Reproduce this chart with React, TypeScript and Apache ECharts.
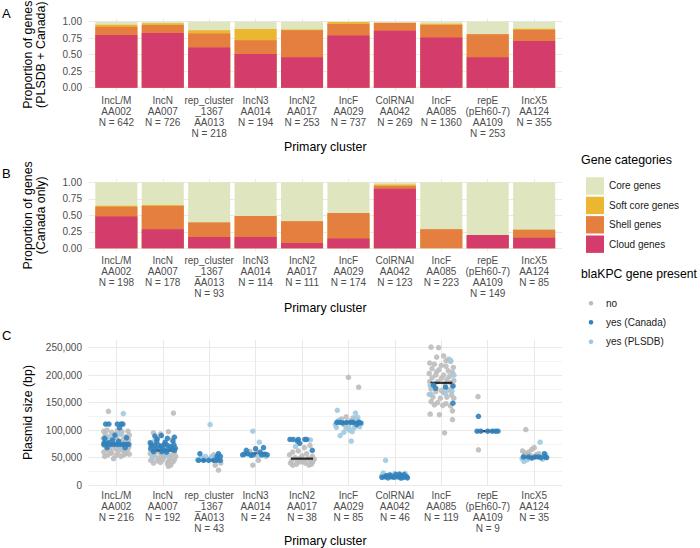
import React, { useEffect, useRef } from "react";
import * as echarts from "echarts";

// ---------- categories / counts ----------
const clusterLabels = [
  "IncL/M\nAA002",
  "IncN\nAA007",
  "rep_cluster\n_1367\nAA013",
  "IncN3\nAA014",
  "IncN2\nAA017",
  "IncF\nAA029",
  "ColRNAI\nAA042",
  "IncF\nAA085",
  "repE\n(pEh60-7)\nAA109",
  "IncX5\nAA124",
];
const nAll = [642, 726, 218, 194, 253, 737, 269, 1360, 253, 355];
const nCanada = [198, 178, 93, 114, 111, 174, 123, 223, 149, 85];
const nPlasmid = [216, 192, 43, 24, 38, 85, 46, 119, 9, 35];

const geneCategories = ["Core genes", "Soft core genes", "Shell genes", "Cloud genes"];
const geneColors: Record<string, string> = {
  "Core genes": "#dfe5bf",
  "Soft core genes": "#ebb730",
  "Shell genes": "#e57f40",
  "Cloud genes": "#d43d6b",
};

// ---------- Panel A: PLSDB + Canada proportions ----------
const cloudAll = [0.8, 0.83, 0.61, 0.51, 0.46, 0.79, 0.864, 0.76, 0.46, 0.707];
const shellAll = [0.125, 0.12, 0.21, 0.21, 0.41, 0.175, 0.116, 0.19, 0.35, 0.172];
const softAll = [0.03, 0.025, 0.05, 0.17, 0.01, 0.03, 0.005, 0.02, 0.0, 0.015];
const coreAll = [0.045, 0.025, 0.13, 0.11, 0.12, 0.005, 0.015, 0.03, 0.19, 0.106];

// ---------- Panel B: Canada only proportions ----------
const cloudCan = [0.48, 0.29, 0.17, 0.17, 0.08, 0.15, 0.904, 0.0, 0.2, 0.16];
const shellCan = [0.15, 0.35, 0.22, 0.32, 0.33, 0.385, 0.041, 0.29, 0.0, 0.12];
const softCan = [0.015, 0.015, 0.0, 0.0, 0.0, 0.0, 0.02, 0.0, 0.0, 0.0];
const coreCan = [0.355, 0.345, 0.61, 0.51, 0.59, 0.465, 0.035, 0.71, 0.8, 0.72];

// ---------- Panel C: plasmid sizes (kbp), [jitter offset, size] ----------
const noPoints: number[][][] = [
  [[-0.17,134],[-0.27,98],[-0.2,100],[-0.1,96],[0.02,99],[0.12,97],[0.25,98],[-0.24,92],[-0.05,90],[0.08,93],[0.2,88],[0.28,91],[-0.28,85],[-0.15,84],[0,86],[0.15,83],[0.26,82],[-0.22,79],[-0.08,80],[0.05,78],[0.18,77],[-0.26,72],[-0.12,70],[0.1,71],[0.27,69],[-0.2,65],[-0.02,66],[0.13,64],[0.24,63],[-0.27,60],[-0.1,58],[0.04,60],[0.2,57],[-0.18,55],[0,54],[0.16,55],[0.28,56],[-0.25,52],[-0.06,48],[0.1,52],[-0.13,62],[0.07,68],[0.22,74],[-0.04,75],[0.17,62]],
  [[0.23,131],[0.12,97],[-0.2,95],[-0.05,93],[0.2,82],[-0.25,70],[-0.15,66],[0,68],[0.1,62],[0.25,60],[-0.27,57],[-0.18,55],[-0.05,58],[0.08,56],[0.18,54],[0.28,52],[-0.22,50],[-0.1,49],[0.03,51],[0.15,48],[0.25,46],[-0.26,45],[-0.12,44],[0,46],[0.12,43],[0.22,42],[-0.2,40],[-0.05,41],[0.1,39],[0.17,36],[0.12,34],[-0.15,61],[0.05,63],[-0.02,53],[0.2,64]],
  [[0.1,55],[0.13,36],[0.2,27],[-0.15,48],[0.05,50],[0.25,40]],
  [[-0.06,36],[0.06,45],[-0.12,61],[0.02,58],[0.15,54]],
  [[0.17,72],[0.05,68],[-0.2,60],[-0.08,62],[0.1,57],[-0.27,55],[0,53],[0.22,52],[-0.15,50],[-0.05,48],[0.12,48],[0.26,47],[-0.22,45],[-0.1,44],[0.03,43],[0.18,44],[-0.25,40],[-0.12,38],[0.07,40],[0.2,38],[-0.2,36],[0.15,36],[-0.02,42],[0.23,42]],
  [[0,196],[0.22,178],[-0.05,124],[0.1,122],[-0.15,120],[0.2,118],[0.05,117],[-0.1,110],[0.15,108],[-0.22,116]],
  [[-0.2,17],[0.1,18],[0.25,16]],
  [[-0.22,251],[-0.06,250],[-0.1,233],[0.16,229],[0.2,225],[-0.25,222],[-0.15,220],[0,218],[0.1,216],[0.26,214],[-0.2,212],[-0.05,210],[0.15,208],[0.24,205],[-0.26,203],[-0.12,200],[0.05,200],[0.18,198],[-0.2,195],[0,194],[0.12,192],[0.27,190],[-0.25,188],[-0.08,188],[0.2,186],[-0.15,184],[0.08,184],[0.25,182],[-0.22,175],[0,172],[0.16,173],[-0.12,170],[0.05,168],[-0.26,165],[0.22,164],[-0.18,160],[-0.02,158],[0.12,160],[0.27,158],[-0.22,152],[-0.08,150],[0.1,148],[-0.15,146],[0.03,145],[0.2,144],[-0.24,129],[-0.04,128],[0.24,119],[0.07,95],[0.24,135],[0.1,226],[-0.1,206],[0.05,235]],
  [[-0.21,161],[-0.2,64]],
  [[-0.18,101],[-0.25,62],[-0.2,58],[-0.12,60],[-0.05,65],[0,68],[-0.15,56],[-0.22,53],[-0.08,54],[0.05,55],[0.1,57],[-0.18,50],[0.02,52]],
];
const canadaPoints: number[][][] = [
  [[-0.23,111],[-0.16,111],[0.02,111],[0.1,111],[0.14,111],[0.07,104],[-0.03,91],[-0.25,85],[0.22,86],[-0.26,77],[-0.17,77],[-0.27,74],[-0.2,74],[-0.12,74],[-0.05,74],[0.02,74],[0.08,74],[0.15,74],[0.22,74],[0.27,74],[-0.2,68],[0.19,68],[0.05,80],[-0.08,82]],
  [[-0.17,89],[-0.03,90],[0.1,85],[0.25,87],[0.22,80],[-0.27,77],[-0.13,80],[0.05,78],[-0.25,73],[-0.18,72],[-0.1,73],[-0.03,71],[0.04,74],[0.1,72],[0.17,70],[0.24,73],[0.27,67],[-0.26,66],[-0.15,65],[-0.05,67],[0.02,64],[0.13,65],[0.2,66],[-0.2,61],[-0.02,61],[0.08,60],[0.25,63],[-0.12,84]],
  [[-0.2,57],[0.2,57],[-0.23,45],[-0.12,45],[-0.01,45],[0.1,45],[0.24,45],[0.17,52],[0.24,52],[0.16,45]],
  [[-0.24,56],[-0.17,57],[-0.28,55],[-0.1,54],[0,66],[0.17,68],[0.1,60],[0.2,56],[0.25,55],[-0.05,55],[0.13,55],[-0.2,63]],
  [[-0.26,83],[-0.19,83],[-0.08,83],[0.06,83],[0.1,83],[-0.05,76],[0.22,63],[-0.1,80]],
  [[-0.25,114],[-0.18,114],[0.05,114],[0.1,114],[0.22,114],[0.18,110],[-0.12,113],[0.26,113],[-0.04,114]],
  [[-0.28,14],[-0.22,15],[-0.15,13],[-0.08,15],[-0.02,14],[0.05,15],[0.12,13],[0.18,14],[0.25,15],[0.27,13],[0.02,19],[0.1,20],[-0.1,18],[0.2,19],[-0.18,17],[0.15,16]],
  [[-0.17,182],[-0.12,176],[0.09,178],[0.25,180],[0.25,149]],
  [[-0.2,125],[-0.23,98],[-0.15,98],[0,98],[0.17,98],[0.22,98],[0.1,98]],
  [[-0.23,51],[-0.12,51],[0.02,51],[0.09,51],[0.24,51],[0.27,50],[0.22,57],[-0.05,49],[0.15,50]],
];
const plsdbPoints: number[][][] = [
  [[0.15,130],[0.1,92],[0.05,70],[-0.15,88]],
  [[-0.18,80],[0.08,55],[-0.22,52]],
  [[0.02,110],[-0.08,52],[0.06,52],[-0.18,50],[-0.02,47],[0.13,50],[-0.25,46]],
  [[-0.06,98],[0.08,78],[-0.15,58],[0.05,53],[0.22,52]],
  [[0.18,82],[-0.14,70]],
  [[-0.24,136],[0.15,131],[0.06,80],[-0.18,90],[-0.1,96],[0.02,100],[0.12,104],[-0.26,105],[0.24,106],[0,107],[0.15,120],[-0.2,118],[0.2,123],[-0.05,103],[0.28,112],[-0.28,110],[0.08,97]],
  [[-0.2,45],[-0.25,22],[-0.12,19],[0,21],[0.08,17],[0.22,21],[-0.05,16],[0.15,12],[-0.28,17]],
  [[-0.24,181],[-0.22,165],[0.09,167],[0.2,227],[0.23,171],[0.27,200]],
  [],
  [[0.13,78],[-0.22,43],[-0.15,46],[0.18,47],[-0.26,48],[0.25,55]],
];
const medianKbp = [74, 63, 45, 57, 48, 114, 15, 186, 98, 50];

const propTicks = [0, 0.25, 0.5, 0.75, 1];
const sizeTicks = [0, 50000, 100000, 150000, 200000, 250000];
const sizeMinorTicks = [25000, 75000, 125000, 175000, 225000];

const FONT = '"Liberation Sans", Arial, Helvetica, sans-serif';
const TICK = "#4d4d4d";
const GRIDC = "#e9e9e9";
const positions = clusterLabels.map((_, i) => i + 1);

function fmtComma(v: number) {
  return String(Math.round(v)).replace(/\B(?=(\d{3})+(?!\d))/g, ",");
}

function xAxisFor(gridIndex: number, counts: number[], margin: number) {
  return {
    type: "value",
    gridIndex,
    min: 0.4,
    max: 10.6,
    axisLine: { show: false },
    axisTick: { show: false, customValues: positions },
    axisLabel: {
      customValues: positions,
      formatter: (v: number) => {
        const i = Math.round(v) - 1;
        return `${clusterLabels[i]}\nN = ${counts[i]}`;
      },
      color: TICK,
      fontSize: 10,
      lineHeight: 11,
      margin,
      fontFamily: FONT,
    },
    splitLine: { show: true, lineStyle: { color: GRIDC, width: 1 } },
    name: "Primary cluster",
    nameLocation: "middle",
    nameGap: 50,
    nameTextStyle: { color: "#000", fontSize: 12.4, fontFamily: FONT },
  };
}

function propYAxis(gridIndex: number) {
  return {
    type: "value",
    gridIndex,
    min: -0.05,
    max: 1.05,
    axisLine: { show: false },
    axisTick: { show: false, customValues: propTicks },
    axisLabel: {
      customValues: propTicks,
      formatter: (v: number) => v.toFixed(2),
      color: TICK,
      fontSize: 10,
      margin: 6.5,
      fontFamily: FONT,
    },
    splitLine: { show: true, lineStyle: { color: GRIDC, width: 1 } },
  };
}

// Stacked bars drawn as cumulative layers: each layer spans from 0 to the
// running total, drawn largest first so lower segments overlay them.
function barSeries(axisIndex: number, sets: [string, number[]][]) {
  const cumulative: [string, number[]][] = [];
  let running = sets[0][1].map(() => 0);
  for (const [name, vals] of sets) {
    running = running.map((r, i) => r + vals[i]);
    cumulative.push([name, running.slice()]);
  }
  return cumulative.reverse().map(([name, tops]) => ({
    type: "bar",
    name,
    xAxisIndex: axisIndex,
    yAxisIndex: axisIndex,
    barWidth: 42,
    barGap: "-100%",
    itemStyle: { color: geneColors[name] },
    data: tops.map((v, i) => [i + 1, v]),
  }));
}

function scatterData(groups: number[][][]) {
  return groups.flatMap((pts, i) => pts.map(([dx, k]) => [i + 1 + dx, k * 1000]));
}

function yTitle(text: string, cy: number) {
  return {
    type: "text",
    x: 34.5,
    y: cy,
    rotation: Math.PI / 2,
    style: {
      text,
      fill: "#000",
      align: "center",
      verticalAlign: "middle",
      lineHeight: 13,
      font: `12.4px ${FONT}`,
    },
  };
}

function buildOption() {
  return {
    animation: false,
    textStyle: { fontFamily: FONT },
    grid: [
      { left: 88.5, top: 18.4, width: 473.5, height: 72.6 },
      { left: 88.5, top: 179, width: 473.5, height: 72.6 },
      { left: 88.5, top: 340, width: 473.5, height: 145.7 },
    ],
    xAxis: [xAxisFor(0, nAll, 3.5), xAxisFor(1, nCanada, 3.5), xAxisFor(2, nPlasmid, 4.8)],
    yAxis: [
      propYAxis(0),
      propYAxis(1),
      {
        type: "value",
        gridIndex: 2,
        min: 0,
        max: 264000,
        axisLine: { show: false },
        axisTick: { show: false, customValues: sizeTicks },
        axisLabel: {
          customValues: sizeTicks,
          formatter: (v: number) => fmtComma(v),
          color: TICK,
          fontSize: 10,
          margin: 6.5,
          fontFamily: FONT,
        },
        splitLine: { show: true, lineStyle: { color: GRIDC, width: 1 } },
        name: "Plasmid size (bp)",
        nameLocation: "middle",
        nameRotate: 90,
        nameGap: 55,
        nameTextStyle: { color: "#000", fontSize: 12.4, fontFamily: FONT },
      },
      {
        type: "value",
        gridIndex: 2,
        min: 0,
        max: 264000,
        axisLine: { show: false },
        axisTick: { show: false, customValues: sizeMinorTicks },
        axisLabel: { show: false },
        splitLine: { show: true, lineStyle: { color: "#f3f3f3", width: 1 } },
      },
    ],
    legend: {
      data: geneCategories,
      left: 581,
      top: 172.3,
      orient: "vertical",
      icon: "rect",
      itemWidth: 18,
      itemHeight: 17.4,
      itemGap: 2,
      selectedMode: false,
      textStyle: { fontSize: 10, color: "#1a1a1a", fontFamily: FONT },
    },
    graphic: [
      yTitle("Proportion of genes\n(PLSDB + Canada)", 54.7),
      yTitle("Proportion of genes\n(Canada only)", 215.3),
      { type: "text", x: 2, y: 13, style: { text: "A", fill: "#000", verticalAlign: "middle", font: `13px ${FONT}` } },
      { type: "text", x: 2, y: 173, style: { text: "B", fill: "#000", verticalAlign: "middle", font: `13px ${FONT}` } },
      { type: "text", x: 2, y: 335, style: { text: "C", fill: "#000", verticalAlign: "middle", font: `13px ${FONT}` } },
      { type: "text", x: 581, y: 160, style: { text: "Gene categories", fill: "#000", verticalAlign: "middle", font: `12.4px ${FONT}` } },
      { type: "text", x: 581, y: 274, style: { text: "blaKPC gene present", fill: "#000", verticalAlign: "middle", font: `12.2px ${FONT}` } },
      { type: "circle", shape: { cx: 591, cy: 303.3, r: 2.3 }, style: { fill: "#bdbdbd" } },
      { type: "circle", shape: { cx: 591, cy: 322.3, r: 2.3 }, style: { fill: "#3182bd" } },
      { type: "circle", shape: { cx: 591, cy: 341.7, r: 2.3 }, style: { fill: "#9ecae1" } },
      { type: "text", x: 606, y: 303.3, style: { text: "no", fill: "#1a1a1a", verticalAlign: "middle", font: `10px ${FONT}` } },
      { type: "text", x: 606, y: 322.3, style: { text: "yes (Canada)", fill: "#1a1a1a", verticalAlign: "middle", font: `10px ${FONT}` } },
      { type: "text", x: 606, y: 341.7, style: { text: "yes (PLSDB)", fill: "#1a1a1a", verticalAlign: "middle", font: `10px ${FONT}` } },
    ],
    series: [
      ...barSeries(0, [
        ["Cloud genes", cloudAll],
        ["Shell genes", shellAll],
        ["Soft core genes", softAll],
        ["Core genes", coreAll],
      ]),
      ...barSeries(1, [
        ["Cloud genes", cloudCan],
        ["Shell genes", shellCan],
        ["Soft core genes", softCan],
        ["Core genes", coreCan],
      ]),
      {
        type: "scatter",
        name: "no",
        xAxisIndex: 2,
        yAxisIndex: 2,
        symbolSize: 5.5,
        itemStyle: { color: "#bdbdbd", opacity: 0.9 },
        data: scatterData(noPoints),
      },
      {
        type: "scatter",
        name: "median",
        xAxisIndex: 2,
        yAxisIndex: 2,
        symbol: "rect",
        symbolSize: [22, 2.2],
        itemStyle: { color: "#000" },
        data: medianKbp.map((k, i) => [i + 1, k * 1000]),
      },
      {
        type: "scatter",
        name: "yes (PLSDB)",
        xAxisIndex: 2,
        yAxisIndex: 2,
        symbolSize: 5.5,
        itemStyle: { color: "#9ecae1", opacity: 0.9 },
        data: scatterData(plsdbPoints),
      },
      {
        type: "scatter",
        name: "yes (Canada)",
        xAxisIndex: 2,
        yAxisIndex: 2,
        symbolSize: 5.5,
        itemStyle: { color: "#3182bd", opacity: 0.9 },
        data: scatterData(canadaPoints),
      },
    ],
  };
}

export default function App() {
  const ref = useRef<HTMLDivElement>(null);
  useEffect(() => {
    if (!ref.current) return;
    const chart = echarts.init(ref.current, null, { renderer: "svg" });
    chart.setOption(buildOption() as any);
    return () => chart.dispose();
  }, []);
  return (
    <div
      ref={ref}
      style={{ position: "absolute", left: 0, top: 0, width: 700, height: 548, background: "#fff" }}
    />
  );
}
